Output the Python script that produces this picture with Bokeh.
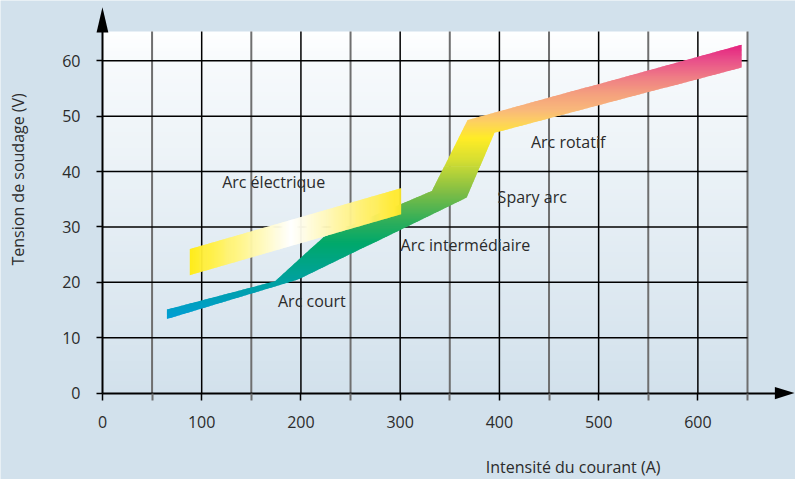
import numpy as np
from bokeh.plotting import figure
from bokeh.models import Range1d, FixedTicker, Label
from bokeh.core.properties import value
from bokeh.embed import file_html
from bokeh.resources import INLINE

# ---------------- data ----------------
x_ticks = [0, 100, 200, 300, 400, 500, 600]
x_minor = [50, 150, 250, 350, 450, 550, 650]
y_ticks = [0, 10, 20, 30, 40, 50, 60]
grid_y = [10, 20, 30, 40, 50, 60]
x_max = 650
y_max = 65.3

# main band: Arc court -> Arc intermédiaire -> Spary arc -> Arc rotatif
band_up_x = [65, 174, 223, 332, 368, 644]
band_up_y = [15.1, 20.2, 28.2, 36.5, 49.3, 62.9]
band_lo_x = [65, 197, 367, 395, 644]
band_lo_y = [13.4, 20.5, 35.3, 47.0, 58.8]
band_stops_y = [13, 20, 27, 31, 36, 42, 46, 49, 51, 54, 57, 60, 63]
band_stops_c = ["#009ed9", "#00a0a2", "#00a86b", "#2fae5a", "#7cbc46", "#d5de32",
                "#ffec26", "#fdd060", "#f9b97a", "#f4a07e", "#ef7d85", "#e9518a", "#e5207f"]

# Arc électrique band
elec_x = [88, 301]
elec_up_y = [26.0, 37.0]
elec_lo_y = [21.3, 32.3]
elec_stops_x = [88, 190, 301]
elec_stops_c = ["#ffec1a", "#ffffff", "#ffe92a"]

label_text = ["Arc électrique", "Arc court", "Arc intermédiaire", "Spary arc", "Arc rotatif"]
label_x = [120.6, 176.9, 300.4, 398.2, 431.8]
label_y = [38.1, 16.7, 26.7, 35.4, 45.4]

x_title = "Intensité du courant (A)"
y_title = "Tension de soudage (V)"

BG = "#d2e1ec"
FONT = "Open Sans"
TXT = "#2b2b2b"

# ---------------- layout (pixels) ----------------
W, H = 795, 479
X0_PX, XSCALE = 101.95, 0.99238   # pixel of x=0, px per unit
Y0_PX, YSCALE = 392.6, 5.538      # pixel of y=0 (from top), px per unit

# ---------------- helpers ----------------
def hex2rgb(h):
    h = h.lstrip("#")
    return [int(h[i:i + 2], 16) for i in (0, 2, 4)]

def interp_color(v, stops, colors):
    rgb = np.array([hex2rgb(c) for c in colors], dtype=float)
    r = [np.interp(v, stops, rgb[:, k]) for k in range(3)]
    return "#%02x%02x%02x" % tuple(int(round(c)) for c in r)

def _cut(p, c, axis, bound):
    t = (bound - p[axis]) / (c[axis] - p[axis])
    return (p[0] + t * (c[0] - p[0]), p[1] + t * (c[1] - p[1]))

def clip(poly, axis, bound, keep_greater):
    out = []
    n = len(poly)
    for i in range(n):
        cur, prev = poly[i], poly[i - 1]
        cin = cur[axis] >= bound if keep_greater else cur[axis] <= bound
        pin = prev[axis] >= bound if keep_greater else prev[axis] <= bound
        if cin:
            if not pin:
                out.append(_cut(prev, cur, axis, bound))
            out.append(cur)
        elif pin:
            out.append(_cut(prev, cur, axis, bound))
    return out

def gradient_slices(poly, axis, lo, hi, n, stops, colors):
    xs, ys, cs = [], [], []
    edges = np.linspace(lo, hi, n + 1)
    step = edges[1] - edges[0]
    for a, b in zip(edges[:-1], edges[1:]):
        piece = clip(clip(poly, axis, a, True), axis, b + 0.6 * step, False)
        if len(piece) < 3:
            continue
        xs.append([q[0] for q in piece])
        ys.append([q[1] for q in piece])
        cs.append(interp_color((a + b) / 2, stops, colors))
    return xs, ys, cs

# ---------------- figure ----------------
x_range = Range1d(-X0_PX / XSCALE, (W - X0_PX) / XSCALE)
y_range = Range1d(-(H - Y0_PX) / YSCALE, Y0_PX / YSCALE)
p = figure(width=W, height=H, x_range=x_range, y_range=y_range,
           output_backend="svg", toolbar_location=None,
           min_border=0, min_border_left=0, min_border_right=0,
           min_border_top=0, min_border_bottom=0)
p.background_fill_color = BG
p.border_fill_color = BG
p.outline_line_color = None
p.grid.visible = False

# plot-area vertical gradient
nb = 90
edges = np.linspace(0, y_max, nb + 1)
bg_cols = [interp_color((a + b) / 2, [0, 60, y_max], [BG, "#f7fafc", "#ffffff"])
           for a, b in zip(edges[:-1], edges[1:])]
p.quad(left=0, right=x_max, bottom=edges[:-1],
       top=np.minimum(edges[1:] + 0.4 * (edges[1] - edges[0]), y_max),
       fill_color=bg_cols, line_color=None)

# grid
p.segment(x0=x_minor, y0=0, x1=x_minor, y1=y_max, line_color="#6f6f6f", line_width=2)
p.segment(x0=x_ticks[1:], y0=0, x1=x_ticks[1:], y1=y_max, line_color="black", line_width=1.5)
p.segment(x0=0, y0=grid_y, x1=x_max, y1=grid_y, line_color="black", line_width=1.5)

# bands
main_poly = list(zip(band_up_x, band_up_y)) + list(zip(band_lo_x, band_lo_y))[::-1]
xs, ys, cs = gradient_slices(main_poly, 1, min(band_lo_y), max(band_up_y), 220,
                             band_stops_y, band_stops_c)
p.patches(xs, ys, fill_color=cs, line_color=None)

elec_poly = [(elec_x[0], elec_lo_y[0]), (elec_x[0], elec_up_y[0]),
             (elec_x[1], elec_up_y[1]), (elec_x[1], elec_lo_y[1])]
xs, ys, cs = gradient_slices(elec_poly, 0, elec_x[0], elec_x[1], 220,
                             elec_stops_x, elec_stops_c)
p.patches(xs, ys, fill_color=cs, line_color=None)

# region labels
p.text(x=label_x, y=label_y, text=label_text, text_font=value(FONT),
       text_font_size="16px", text_color=TXT, text_baseline="middle", text_align="left")

# axes, drawn through the origin
y_tip = (Y0_PX - 6.8) / YSCALE
y_base = (Y0_PX - 31.9) / YSCALE
x_tip = (794 - X0_PX) / XSCALE
x_base = (774.4 - X0_PX) / XSCALE

xa = p.xaxis[0]
xa.fixed_location = 0
xa.bounds = (0, x_base + 2)
xa.ticker = FixedTicker(ticks=x_ticks, minor_ticks=x_minor)
xa.axis_line_width = 2
xa.axis_line_color = "black"
xa.major_tick_out = 7
xa.major_tick_in = 0
xa.major_tick_line_width = 1.5
xa.minor_tick_out = 7
xa.minor_tick_in = 0
xa.minor_tick_line_color = "#6f6f6f"
xa.minor_tick_line_width = 2
xa.major_label_standoff = 16
xa.major_label_text_font = FONT
xa.major_label_text_font_size = "16px"
xa.major_label_text_color = TXT

ya = p.yaxis[0]
ya.fixed_location = 0
ya.bounds = (0, y_base + 0.5)
ya.ticker = FixedTicker(ticks=y_ticks, minor_ticks=[])
ya.axis_line_width = 2
ya.axis_line_color = "black"
ya.major_tick_out = 6
ya.major_tick_in = 0
ya.major_tick_line_width = 1.5
ya.major_label_standoff = 16
ya.major_label_text_font = FONT
ya.major_label_text_font_size = "16px"
ya.major_label_text_color = TXT

# arrow heads
hw_x = 5.95   # half width of the vertical arrow head, data x units
hw_y = 1.1    # half height of the horizontal arrow head, data y units
p.patch(x=[-hw_x, 0, hw_x], y=[y_base, y_tip, y_base], fill_color="black", line_color=None)
p.patch(x=[x_base, x_tip, x_base], y=[-hw_y, 0, hw_y], fill_color="black", line_color=None)

# axis titles
p.add_layout(Label(x=474.3, y=-13.3, text=x_title, text_font=FONT, text_font_size="16px",
                   text_color=TXT, text_align="center", text_baseline="middle"))
p.add_layout(Label(x=-85, y=38.6, text=y_title, angle=np.pi / 2, text_font=FONT,
                   text_font_size="16px", text_color=TXT, text_align="center",
                   text_baseline="middle"))

open("out.html", "w").write(file_html(p, INLINE))
